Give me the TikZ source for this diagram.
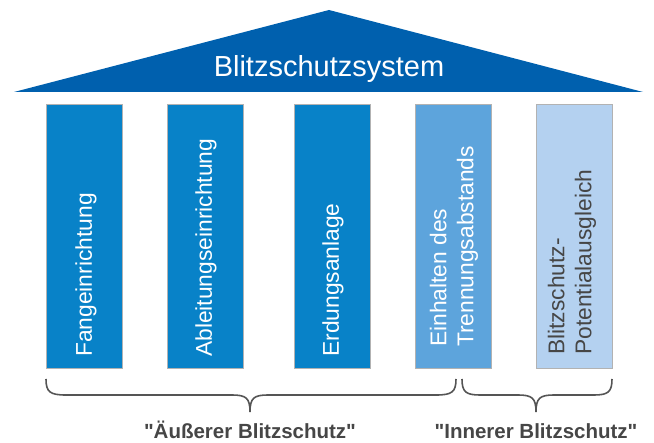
\documentclass[tikz,border=0pt]{standalone}
\usepackage{fontspec}
\setmainfont{Liberation Sans}[Ligatures=TeXOff]
\definecolor{roofc}{RGB}{0,96,174}
\definecolor{colA}{RGB}{8,130,200}
\definecolor{colB}{RGB}{93,164,220}
\definecolor{colC}{RGB}{180,209,240}
\definecolor{bracec}{RGB}{85,85,85}
\definecolor{darktext}{RGB}{70,70,70}
\begin{document}
\begin{tikzpicture}[x=1pt,y=-1pt,
  pillar/.style={draw=gray!60, line width=0.6pt, minimum width=76pt, minimum height=264pt, inner sep=0pt, anchor=north west},
  ptext/.style={rotate=90, anchor=west, inner sep=0pt, align=left, text=white, font=\fontsize{22.8}{27}\selectfont},
  brc/.style={draw=bracec, line width=1.6pt},
  lab/.style={anchor=base, inner sep=0pt, text=darktext, font=\bfseries\fontsize{20.5}{24}\selectfont}]
\useasboundingbox (0,0) rectangle (654,443);
% roof
\coordinate (rl) at (14,92);
\coordinate (rt) at (329,10);
\coordinate (rr) at (643,92);
\fill[roofc] (rl) -- (rt) -- (rr) -- cycle;
\node[text=white, inner sep=0pt, anchor=base, font=\fontsize{29}{34}\selectfont] (title) at (329,77) {Blitzschutzsystem};
% pillars
\node[pillar, fill=colA] (p1) at (46,104) {};
\node[pillar, fill=colA] (p2) at (167,104) {};
\node[pillar, fill=colA] (p3) at (294,104) {};
\node[pillar, fill=colB] (p4) at (415,104) {};
\node[pillar, fill=colC] (p5) at (536,104) {};
\node[ptext] (t1) at (86,357) {Fangeinrichtung};
\node[ptext] (t2) at (206,357) {Ableitungseinrichtung};
\node[ptext] (t3) at (333,357) {Erdungsanlage};
\node[ptext] (t4) at (454,347) {Einhalten des\\Trennungsabstands};
\node[ptext, text=darktext] (t5) at (572,355) {Blitzschutz-\\Potentialausgleich};
% braces
\draw[brc] (46,379) .. controls (46,392) and (50,395) .. (66,395) -- (232,395)
  .. controls (246,395) and (250,398) .. (250,412)
  .. controls (250,398) and (254,395) .. (268,395) -- (436,395)
  .. controls (452,395) and (456,392) .. (456,379);
\draw[brc] (462,379) .. controls (462,392) and (466,395) .. (480,395) -- (518,395)
  .. controls (532,395) and (536,398) .. (536,412)
  .. controls (536,398) and (540,395) .. (554,395) -- (594,395)
  .. controls (608,395) and (612,392) .. (612,379);
\node[lab] (l1) at (250,439) {"Äußerer Blitzschutz"};
\node[lab] (l2) at (536,439) {"Innerer Blitzschutz"};
\end{tikzpicture}
\end{document}
